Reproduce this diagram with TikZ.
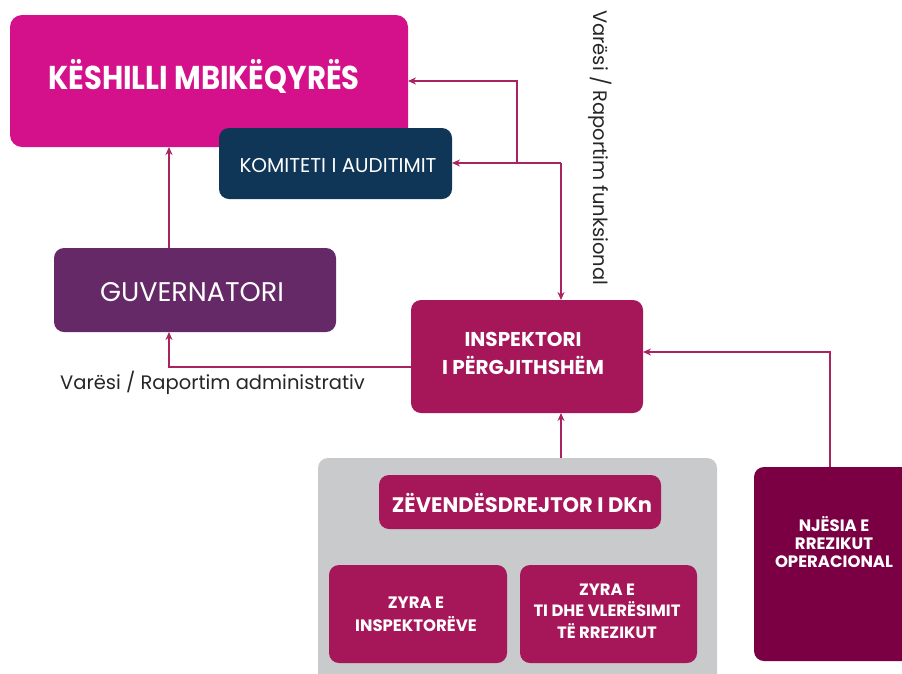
\documentclass[tikz,border=0pt]{standalone}
\usepackage{fontspec}
\setmainfont{Poppins}
\newfontfamily\futb[FakeStretch=0.88]{Poppins}
\usetikzlibrary{arrows.meta}
\definecolor{cmag}{HTML}{D4108A}
\definecolor{cnavy}{HTML}{0F3657}
\definecolor{cpurp}{HTML}{652968}
\definecolor{cwine}{HTML}{A6175A}
\definecolor{cdark}{HTML}{7B0043}
\definecolor{cgray}{HTML}{C9CACC}
\definecolor{cline}{HTML}{A8235F}
\begin{document}
\begin{tikzpicture}[x=1pt,y=-1pt,
  txt/.style={text=white,align=center,inner sep=0pt},
  conn/.style={draw=cline,line width=1.2pt,-{Stealth[length=8pt,width=7pt]}},
  lbl/.style={text=black!85,inner sep=0pt,font=\fontsize{19.5}{22}\selectfont}]
\useasboundingbox (0,0) rectangle (902,673);
% boxes
\fill[cmag,rounded corners=12pt] (10,15) rectangle (408,147);
\node[txt,font=\futb\bfseries\fontsize{33}{38}\selectfont] (ksh) at (204,76) {KËSHILLI MBIKËQYRËS};
\coordinate (kshR) at (408,81);
\coordinate (kshB) at (169,147);
\fill[cnavy,rounded corners=10pt] (219,128) rectangle (452,199);
\node[txt,font=\fontsize{20}{24}\selectfont] (kom) at (338,166) {KOMITETI I AUDITIMIT};
\coordinate (komR) at (452,163);
\fill[cpurp,rounded corners=10pt] (54,248) rectangle (336,332);
\node[txt,font=\fontsize{27}{30}\selectfont] (guv) at (192,292) {GUVERNATORI};
\coordinate (guvT) at (169,248);
\coordinate (guvB) at (169,332);
\fill[cwine,rounded corners=10pt] (411,300) rectangle (643,413);
\node[txt,font=\bfseries\fontsize{20}{28}\selectfont] (ins) at (523,353) {INSPEKTORI\\I PËRGJITHSHËM};
\coordinate (insL) at (411,367);
\coordinate (insT) at (561,300);
\coordinate (insB) at (561,413);
\coordinate (insR) at (643,352);
% gray group
\fill[cgray,rounded corners=10pt] (318,458) rectangle (717,690);
\coordinate (grpT) at (561,458);
\fill[cwine,rounded corners=10pt] (379,475) rectangle (661,529);
\node[txt,font=\bfseries\fontsize{21}{24}\selectfont] (zev) at (522,503) {ZËVENDËSDREJTOR I DKn};
\fill[cwine,rounded corners=10pt] (329,565) rectangle (507,663);
\node[txt,font=\bfseries\fontsize{16.5}{23}\selectfont] (zy1) at (416,614) {ZYRA E\\INSPEKTORËVE};
\fill[cwine,rounded corners=10pt] (520,565) rectangle (697,663);
\node[txt,font=\bfseries\fontsize{16.4}{21.5}\selectfont] (zy2) at (607,611) {ZYRA E\\TI DHE VLERËSIMIT\\TË RREZIKUT};
\fill[cdark,rounded corners=10pt] (754,467) rectangle (915,661);
\node[txt,font=\bfseries\fontsize{16.5}{18}\selectfont] (nje) at (834,542) {NJËSIA E\\RREZIKUT\\OPERACIONAL};
\coordinate (njeT) at (830,467);
% connectors
\draw[conn] (guvT) -- (kshB);
\draw[conn] (insL) -| (guvB);
\coordinate (j1) at (561,163);
\draw[conn] (j1) -- (insT);
\draw[conn] (j1) -- (komR);
\draw[conn] (517,163) |- (kshR);
\draw[conn] (grpT) -- (insB);
\draw[conn] (njeT) |- (insR);
% labels
\node[lbl,anchor=west] (la) at (60,383) {Varësi / Raportim administrativ};
\node[lbl,rotate=-90,anchor=west] (lf) at (600,10) {Varësi / Raportim funksional};
\end{tikzpicture}
\end{document}
